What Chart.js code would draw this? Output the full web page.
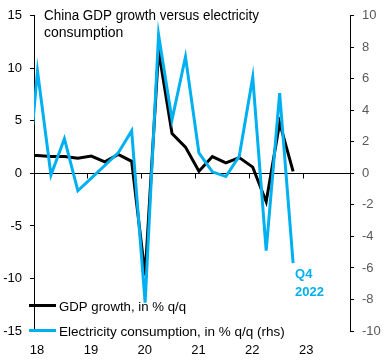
<!DOCTYPE html>
<html lang="en">
<head>
<meta charset="UTF-8">
<title>China GDP growth versus electricity consumption</title>
<script src="https://cdn.jsdelivr.net/npm/chart.js"></script>
<style>
  body { margin: 0; background: #fff; }
  #wrap { width: 385px; height: 361px; }
</style>
</head>
<body>
<div id="wrap"><canvas id="chart" width="385" height="361"></canvas></div>
<script>
// quarters from Q4 2017 (only peeks in at the left edge) to Q4 2022
const quarters = ['Q4 17', 'Q1 18', 'Q2 18', 'Q3 18', 'Q4 18', 'Q1 19', 'Q2 19', 'Q3 19', 'Q4 19',
  'Q1 20', 'Q2 20', 'Q3 20', 'Q4 20', 'Q1 21', 'Q2 21', 'Q3 21', 'Q4 21', 'Q1 22', 'Q2 22', 'Q3 22', 'Q4 22'];
const gdpGrowth = [1.7, 1.7, 1.6, 1.6, 1.45, 1.65, 1.1, 1.8, 1.15, -9.7, 11.7, 3.8, 2.5, 0.2, 1.6, 1.0, 1.5, 0.6, -2.7, 4.8, 0.2];
const elecGrowth = [-3.1, 6.5, -0.1, 2.2, -1.1, -0.3, 0.5, 1.3, 2.7, -8.2, 8.8, 3.4, 7.4, 1.3, 0.1, -0.2, 1.1, 6.1, -4.9, 5.1, -5.7];
const yearLabels = ['18', '19', '20', '21', '22', '23'];
const yearTicks = [-0.25, 3.75, 7.75, 11.75, 15.75, 19.75]; // year starts on the quarter axis (Q1 18 = 0)
const titleLines = ['China GDP growth versus electricity', 'consumption'];

const blue = '#00B0F0';
const fam = "'Liberation Sans', Arial, sans-serif";
Chart.defaults.font.family = fam;
Chart.defaults.font.size = 13;

// x = quarter index, Q1 2018 = 0
const toPoints = arr => arr.map((v, i) => ({ x: i - 1, y: v }));

const overlay = {
  id: 'overlay',
  afterDraw(chart) {
    const { ctx, scales: { x, y, y2 } } = chart;
    ctx.save();

    // tick marks hanging off the zero line
    const y0 = Math.round(y.getPixelForValue(0) - 0.5) + 0.5;
    ctx.strokeStyle = '#000';
    ctx.lineWidth = 1;
    yearTicks.forEach(v => {
      const px = Math.round(x.getPixelForValue(v) - 0.5) + 0.5;
      ctx.beginPath();
      ctx.moveTo(px, y0);
      ctx.lineTo(px, y0 + 5);
      ctx.stroke();
    });

    // title inside the plot
    ctx.fillStyle = '#000';
    ctx.font = '14px ' + fam;
    ctx.textAlign = 'left';
    ctx.textBaseline = 'alphabetic';
    ctx.fillText(titleLines[0], 44, 20, 215);
    ctx.fillText(titleLines[1], 44, 37);

    // legend, bottom left
    const entries = [
      { ds: chart.data.datasets[1], y: 305.5, w: 127 },
      { ds: chart.data.datasets[0], y: 330.5, w: 227 }
    ];
    ctx.font = '13.5px ' + fam;
    entries.forEach(e => {
      ctx.strokeStyle = e.ds.borderColor;
      ctx.lineWidth = 3;
      ctx.beginPath();
      ctx.moveTo(29, e.y);
      ctx.lineTo(56, e.y);
      ctx.stroke();
      ctx.fillStyle = '#000';
      ctx.fillText(e.ds.label, 59, e.y + 5, e.w);
    });

    // "Q4 2022" note next to the last electricity point
    const last = elecGrowth.length - 1;
    const lx = x.getPixelForValue(last - 1);
    const ly = y2.getPixelForValue(elecGrowth[last]);
    ctx.fillStyle = blue;
    ctx.font = 'bold 13px ' + fam;
    ctx.fillText('Q4', lx + 2, ly + 14.5);
    ctx.fillText('2022', lx + 2, ly + 32.5);
    ctx.restore();
  }
};

new Chart(document.getElementById('chart'), {
  type: 'line',
  data: {
    labels: quarters,
    datasets: [
      {
        label: 'Electricity consumption, in % q/q (rhs)',
        data: toPoints(elecGrowth),
        borderColor: blue,
        borderWidth: 3,
        pointRadius: 0,
        tension: 0,
        yAxisID: 'y2',
        order: 0
      },
      {
        label: 'GDP growth, in % q/q',
        data: toPoints(gdpGrowth),
        borderColor: '#000',
        borderWidth: 3,
        pointRadius: 0,
        tension: 0,
        yAxisID: 'y',
        order: 1
      }
    ]
  },
  options: {
    responsive: false,
    animation: false,
    layout: { padding: { top: 14, left: 0, right: 0, bottom: 0 } },
    plugins: {
      legend: { display: false },
      tooltip: { enabled: false }
    },
    scales: {
      x: {
        type: 'linear',
        min: -0.26,
        max: 23.23,
        grid: { display: false },
        border: { display: false },
        ticks: {
          padding: 4,
          color: '#000',
          maxRotation: 0,
          autoSkip: false,
          callback: (v, i) => yearLabels[i]
        },
        afterBuildTicks: s => { s.ticks = yearTicks.map(v => ({ value: v + 0.22 })); },
        afterFit: s => { s.height = 30; }
      },
      y: {
        position: 'left',
        min: -15,
        max: 15,
        ticks: { stepSize: 5, padding: 8, color: '#000' },
        grid: {
          color: c => (c.tick && c.tick.value === 0) ? '#000' : 'rgba(0,0,0,0)',
          tickColor: '#000',
          tickLength: 4,
          lineWidth: 1
        },
        border: { color: '#000' },
        afterFit: s => { s.width = 34; }
      },
      y2: {
        position: 'right',
        min: -10,
        max: 10,
        ticks: { stepSize: 2, padding: 8, color: '#595959' },
        grid: { drawOnChartArea: false, tickColor: '#000', tickLength: 4 },
        border: { color: '#000' },
        afterFit: s => { s.width = 35; }
      }
    }
  },
  plugins: [overlay]
});
</script>
</body>
</html>
